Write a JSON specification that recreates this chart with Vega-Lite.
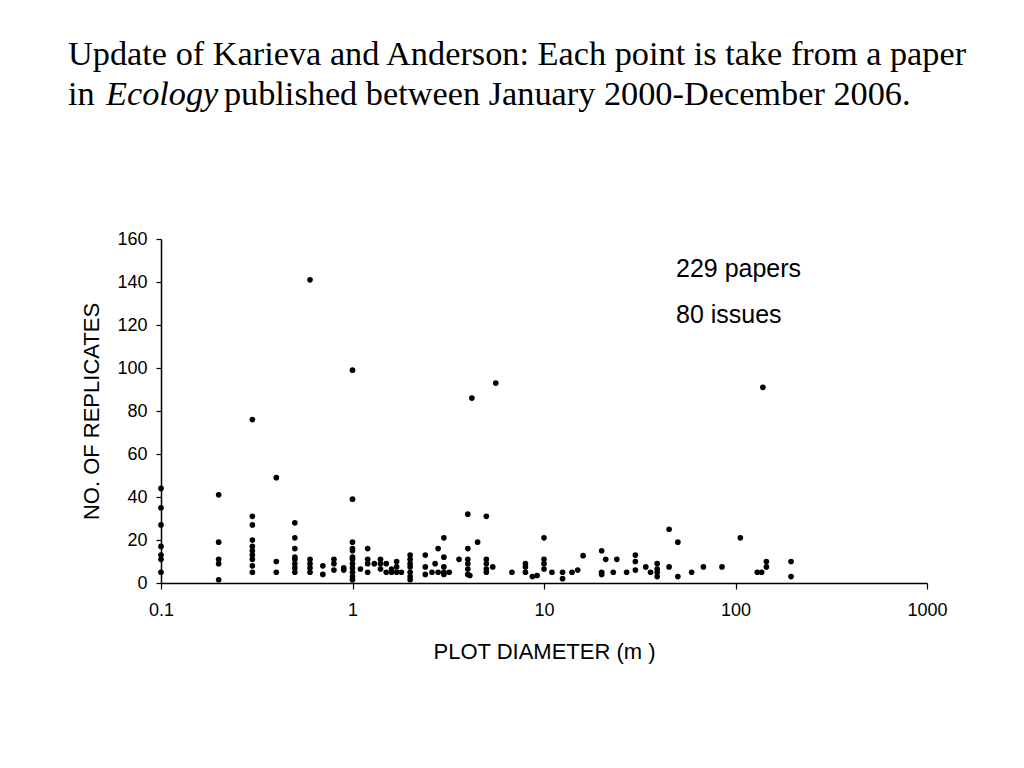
{
  "$schema": "https://vega.github.io/schema/vega-lite/v6.json",
  "width": 766,
  "height": 344,
  "autosize": "none",
  "padding": {"left": 161, "top": 239, "right": 97, "bottom": 185},
  "background": "white",
  "config": {
    "view": {"stroke": null},
    "axis": {"grid": false, "domainColor": "black", "tickColor": "black", "labelColor": "black", "titleColor": "black", "labelFont": "Liberation Sans", "titleFont": "Liberation Sans", "titleFontWeight": "normal", "domainWidth": 1.5, "tickWidth": 1.2}
  },
  "layer": [
    {
      "data": {"values": [
        {"d": 0.1, "n": 44}, {"d": 0.1, "n": 35}, {"d": 0.1, "n": 27}, {"d": 0.1, "n": 17}, {"d": 0.1, "n": 13}, {"d": 0.1, "n": 11}, {"d": 0.1, "n": 5},
        {"d": 0.2, "n": 41}, {"d": 0.2, "n": 19}, {"d": 0.2, "n": 11}, {"d": 0.2, "n": 9}, {"d": 0.2, "n": 1.5},
        {"d": 0.3, "n": 76}, {"d": 0.3, "n": 31}, {"d": 0.3, "n": 27}, {"d": 0.3, "n": 20}, {"d": 0.3, "n": 17}, {"d": 0.3, "n": 15}, {"d": 0.3, "n": 13}, {"d": 0.3, "n": 11}, {"d": 0.3, "n": 8}, {"d": 0.3, "n": 5},
        {"d": 0.4, "n": 49}, {"d": 0.4, "n": 10}, {"d": 0.4, "n": 5},
        {"d": 0.5, "n": 28}, {"d": 0.5, "n": 21}, {"d": 0.5, "n": 16}, {"d": 0.5, "n": 12}, {"d": 0.5, "n": 11}, {"d": 0.5, "n": 9}, {"d": 0.5, "n": 7}, {"d": 0.5, "n": 5},
        {"d": 0.6, "n": 141}, {"d": 0.6, "n": 11}, {"d": 0.6, "n": 9}, {"d": 0.6, "n": 7}, {"d": 0.6, "n": 5},
        {"d": 0.7, "n": 8}, {"d": 0.7, "n": 4},
        {"d": 0.8, "n": 11}, {"d": 0.8, "n": 9}, {"d": 0.8, "n": 6},
        {"d": 0.9, "n": 7}, {"d": 0.9, "n": 6},
        {"d": 1, "n": 99}, {"d": 1, "n": 39}, {"d": 1, "n": 19}, {"d": 1, "n": 16}, {"d": 1, "n": 15}, {"d": 1, "n": 12}, {"d": 1, "n": 11}, {"d": 1, "n": 9}, {"d": 1, "n": 7}, {"d": 1, "n": 5}, {"d": 1, "n": 3}, {"d": 1, "n": 1.5},
        {"d": 1.1, "n": 6.5},
        {"d": 1.2, "n": 16}, {"d": 1.2, "n": 11}, {"d": 1.2, "n": 9}, {"d": 1.2, "n": 5},
        {"d": 1.3, "n": 9},
        {"d": 1.4, "n": 11}, {"d": 1.4, "n": 9}, {"d": 1.4, "n": 6.5},
        {"d": 1.5, "n": 9}, {"d": 1.5, "n": 5},
        {"d": 1.6, "n": 6.5}, {"d": 1.6, "n": 5},
        {"d": 1.7, "n": 10}, {"d": 1.7, "n": 7.5}, {"d": 1.7, "n": 5},
        {"d": 1.8, "n": 5},
        {"d": 2, "n": 13}, {"d": 2, "n": 11}, {"d": 2, "n": 9}, {"d": 2, "n": 7.5}, {"d": 2, "n": 5}, {"d": 2, "n": 3}, {"d": 2, "n": 1.5},
        {"d": 2.4, "n": 13}, {"d": 2.4, "n": 7.5}, {"d": 2.4, "n": 4},
        {"d": 2.6, "n": 5},
        {"d": 2.7, "n": 9},
        {"d": 2.8, "n": 16}, {"d": 2.8, "n": 5},
        {"d": 3, "n": 21}, {"d": 3, "n": 12}, {"d": 3, "n": 7.5}, {"d": 3, "n": 5}, {"d": 3, "n": 4},
        {"d": 3.2, "n": 5},
        {"d": 3.6, "n": 11},
        {"d": 4, "n": 32}, {"d": 4, "n": 16}, {"d": 4, "n": 11}, {"d": 4, "n": 9}, {"d": 4, "n": 6.5}, {"d": 4, "n": 4},
        {"d": 4.1, "n": 3.5},
        {"d": 4.2, "n": 86},
        {"d": 4.5, "n": 19},
        {"d": 5, "n": 31}, {"d": 5, "n": 11}, {"d": 5, "n": 9}, {"d": 5, "n": 6.5}, {"d": 5, "n": 5},
        {"d": 5.4, "n": 7.5},
        {"d": 5.6, "n": 93},
        {"d": 6.8, "n": 5},
        {"d": 8, "n": 9}, {"d": 8, "n": 7.5}, {"d": 8, "n": 5},
        {"d": 8.7, "n": 3},
        {"d": 9.2, "n": 3.5},
        {"d": 10, "n": 21}, {"d": 10, "n": 11}, {"d": 10, "n": 9}, {"d": 10, "n": 6.5},
        {"d": 11, "n": 5},
        {"d": 12.5, "n": 5}, {"d": 12.5, "n": 2},
        {"d": 14, "n": 5},
        {"d": 15, "n": 6},
        {"d": 16, "n": 12.7},
        {"d": 20, "n": 15}, {"d": 20, "n": 5}, {"d": 20, "n": 4},
        {"d": 21, "n": 11},
        {"d": 23, "n": 5},
        {"d": 24, "n": 11},
        {"d": 27, "n": 5},
        {"d": 30, "n": 13}, {"d": 30, "n": 10}, {"d": 30, "n": 6},
        {"d": 34, "n": 7.5},
        {"d": 36, "n": 5},
        {"d": 39, "n": 9}, {"d": 39, "n": 6.5}, {"d": 39, "n": 5}, {"d": 39, "n": 3},
        {"d": 45, "n": 25}, {"d": 45, "n": 7.5},
        {"d": 50, "n": 19}, {"d": 50, "n": 3},
        {"d": 59, "n": 5},
        {"d": 68, "n": 7.5},
        {"d": 85, "n": 7.5},
        {"d": 106, "n": 21},
        {"d": 130, "n": 5},
        {"d": 137, "n": 5},
        {"d": 139, "n": 91},
        {"d": 145, "n": 10}, {"d": 145, "n": 7.5},
        {"d": 195, "n": 10}, {"d": 195, "n": 3}
      ]},
      "mark": {"type": "point", "filled": true, "shape": "circle", "size": 32, "color": "black", "opacity": 1, "clip": false},
      "encoding": {
        "x": {"field": "d", "type": "quantitative", "scale": {"type": "log", "domain": [0.1, 1000]},
          "axis": {"values": [0.1, 1, 10, 100, 1000], "format": "~g", "title": "PLOT DIAMETER (m )", "labelFontSize": 18, "titleFontSize": 22, "tickSize": 6, "labelPadding": 12, "titlePadding": 22, "labelFlush": false}},
        "y": {"field": "n", "type": "quantitative", "scale": {"domain": [0, 160], "nice": false},
          "axis": {"values": [0, 20, 40, 60, 80, 100, 120, 140, 160], "title": "NO. OF REPLICATES", "labelFontSize": 18, "titleFontSize": 22, "tickSize": 5, "labelPadding": 9, "titlePadding": 13}}
      }
    },
    {
      "data": {"values": [{}]},
      "mark": {"type": "text", "text": "229 papers", "font": "Liberation Sans", "fontSize": 25, "align": "left", "baseline": "alphabetic", "color": "black", "clip": false},
      "encoding": {"x": {"datum": 48.9}, "y": {"datum": 142.3}}
    },
    {
      "data": {"values": [{}]},
      "mark": {"type": "text", "text": "80 issues", "font": "Liberation Sans", "fontSize": 25, "align": "left", "baseline": "alphabetic", "color": "black", "clip": false},
      "encoding": {"x": {"datum": 48.9}, "y": {"datum": 121}}
    },
    {
      "data": {"values": [{}]},
      "mark": {"type": "text", "text": "Update of Karieva and Anderson: Each point is take from a paper", "font": "Liberation Serif", "fontSize": 34.3, "align": "left", "baseline": "alphabetic", "color": "black", "clip": false},
      "encoding": {"x": {"datum": 0.0327}, "y": {"datum": 240.8}}
    },
    {
      "data": {"values": [{}]},
      "mark": {"type": "text", "text": "in", "font": "Liberation Serif", "fontSize": 34.3, "align": "left", "baseline": "alphabetic", "color": "black", "clip": false},
      "encoding": {"x": {"datum": 0.0327}, "y": {"datum": 222.2}}
    },
    {
      "data": {"values": [{}]},
      "mark": {"type": "text", "text": "Ecology", "font": "Liberation Serif", "fontStyle": "italic", "fontSize": 34.3, "align": "left", "baseline": "alphabetic", "color": "black", "clip": false},
      "encoding": {"x": {"datum": 0.0516}, "y": {"datum": 222.2}}
    },
    {
      "data": {"values": [{}]},
      "mark": {"type": "text", "text": "published between January 2000-December 2006.", "font": "Liberation Serif", "fontSize": 34.3, "align": "left", "baseline": "alphabetic", "color": "black", "clip": false},
      "encoding": {"x": {"datum": 0.213}, "y": {"datum": 222.2}}
    }
  ]
}
